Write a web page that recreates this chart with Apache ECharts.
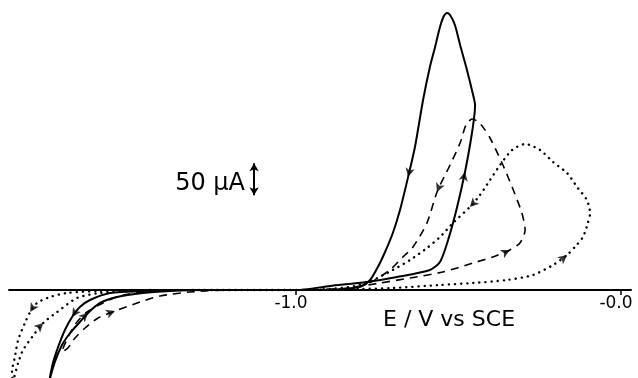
<!DOCTYPE html>
<html>
<head>
<meta charset="utf-8">
<script src="https://cdn.jsdelivr.net/npm/echarts@6/dist/echarts.min.js"></script>
<style>
  html, body { margin: 0; padding: 0; background: #fff; }
  #chart { width: 638px; height: 378px; }
</style>
</head>
<body>
<div id="chart"></div>
<script>
// E in V vs SCE, I in µA
const solidCurve = [
  [-1.326, 0], [-1.458, -1.6], [-1.572, -4.7], [-1.634, -15.6], [-1.665, -26.6],
  [-1.689, -42.2], [-1.711, -62.5], [-1.732, -89.1], [-1.748, -114.1], [-1.760, -143.8],
  [-1.742, -112.5], [-1.720, -85.9], [-1.695, -67.2], [-1.665, -50.0], [-1.640, -35.9],
  [-1.603, -20.3], [-1.551, -10.9], [-1.471, -4.7], [-1.388, -1.6], [-1.295, 0],
  [-1.000, 0], [-0.895, 6.3], [-0.782, 12.5], [-0.689, 20.3], [-0.588, 31.3],
  [-0.557, 43.8], [-0.532, 78.1], [-0.505, 128.1], [-0.480, 184.4], [-0.462, 234.4],
  [-0.452, 268.8], [-0.449, 289.1], [-0.455, 304.7], [-0.474, 343.8], [-0.495, 382.8],
  [-0.511, 414.1], [-0.526, 429.7], [-0.535, 432.8], [-0.545, 428.1], [-0.557, 410.9],
  [-0.572, 379.7], [-0.588, 348.4], [-0.609, 296.9], [-0.634, 223.4], [-0.655, 176.6],
  [-0.680, 125.0], [-0.702, 89.1], [-0.726, 59.4], [-0.748, 35.9], [-0.772, 15.6],
  [-0.797, 6.3], [-0.849, 1.6], [-0.926, 0]
];

const dashedCurve = [
  [-1.295, 0], [-1.449, -1.6], [-1.542, -9.4], [-1.594, -20.3], [-1.643, -34.4],
  [-1.674, -50.0], [-1.695, -67.2], [-1.714, -87.5], [-1.720, -96.9], [-1.702, -90.6],
  [-1.680, -75.0], [-1.649, -59.4], [-1.609, -43.8], [-1.557, -32.8], [-1.480, -18.8],
  [-1.418, -9.4], [-1.326, -3.1], [-1.203, 0], [-1.000, 0], [-0.865, 1.6],
  [-0.812, 4.7], [-0.742, 10.9], [-0.649, 18.8], [-0.548, 28.1], [-0.455, 42.2],
  [-0.394, 51.6], [-0.342, 62.5], [-0.311, 73.4], [-0.295, 93.8], [-0.305, 120.3],
  [-0.335, 160.9], [-0.366, 198.4], [-0.403, 237.5], [-0.425, 254.7], [-0.443, 264.1],
  [-0.458, 267.2], [-0.477, 257.8], [-0.495, 229.7], [-0.526, 195.3], [-0.566, 153.1],
  [-0.597, 104.7], [-0.640, 67.2], [-0.671, 51.6], [-0.711, 31.3], [-0.763, 14.1],
  [-0.803, 6.3], [-0.865, 1.6], [-0.957, 0]
];

const dottedCurve = [
  [-1.449, 0], [-1.603, -1.6], [-1.705, -4.7], [-1.757, -10.9], [-1.797, -20.3],
  [-1.818, -34.4], [-1.834, -51.6], [-1.855, -78.1], [-1.865, -104.7], [-1.874, -128.1],
  [-1.871, -140.0], [-1.855, -114.1], [-1.840, -93.8], [-1.812, -73.4], [-1.778, -51.6],
  [-1.735, -34.4], [-1.674, -12.5], [-1.603, -4.7], [-1.480, -1.6], [-1.295, 0],
  [-1.000, 0], [-0.803, 1.6], [-0.702, 3.1], [-0.557, 7.8], [-0.455, 10.9],
  [-0.351, 15.6], [-0.271, 23.4], [-0.209, 39.1], [-0.166, 54.7], [-0.142, 67.2],
  [-0.117, 82.8], [-0.102, 104.7], [-0.095, 120.3], [-0.105, 140.6], [-0.135, 160.9],
  [-0.166, 182.8], [-0.209, 200.0], [-0.249, 218.8], [-0.295, 228.1], [-0.335, 218.8],
  [-0.372, 195.3], [-0.403, 171.9], [-0.434, 148.4], [-0.465, 129.7], [-0.517, 104.7],
  [-0.557, 82.8], [-0.597, 65.6], [-0.649, 46.9], [-0.702, 31.3], [-0.763, 15.6],
  [-0.818, 6.3], [-0.895, 1.6], [-0.988, 0]
];

const tickValues = [-1.0, 0.0];
const tickLabels = ['-1.0', '-0.0'];

// 50 µA scale bar: E position, I from, I to
const scaleBar = [-1.129, 148, 198];

// direction arrows: curve name, point index
const arrowMarks = [
  ['solid', 5], ['solid', 14], ['solid', 28], ['solid', 44],
  ['dashed', 13], ['dashed', 26], ['dashed', 39],
  ['dotted', 5], ['dotted', 14], ['dotted', 28], ['dotted', 43]
];

const curves = { solid: solidCurve, dashed: dashedCurve, dotted: dottedCurve };
const font = 'DejaVu Sans';

const chart = echarts.init(document.getElementById('chart'), null, { renderer: 'canvas' });

// the x axis sits on the grid's bottom edge (I = 0); cathodic tails hang below it unclipped
const option = {
  animation: false,
  backgroundColor: '#fff',
  grid: { left: 9, right: 7, top: 0, bottom: 88, containLabel: false, outerBoundsMode: 'none' },
  xAxis: {
    type: 'value',
    min: -1.8831,
    max: 0.0308,
    splitLine: { show: false },
    axisLine: { show: true, onZero: false, lineStyle: { color: '#000', width: 2 } },
    axisTick: { show: true, customValues: tickValues, length: 5, lineStyle: { color: '#000', width: 1.5 } },
    axisLabel: {
      show: true,
      customValues: tickValues,
      margin: 5,
      padding: [0, 10, 0, 0],
      color: '#000',
      fontFamily: font,
      fontSize: 17,
      formatter: (v) => tickLabels[tickValues.indexOf(v)] ?? ''
    }
  },
  yAxis: {
    type: 'value',
    min: 0,
    max: 453.125,
    show: false,
    splitLine: { show: false }
  },
  graphic: [
    {
      type: 'text',
      x: 245, y: 184,
      style: { text: '50 µA', fill: '#000', font: '24px "DejaVu Sans"', textAlign: 'right', textVerticalAlign: 'middle' }
    },
    {
      type: 'text',
      x: 383, y: 320,
      style: { text: 'E / V vs SCE', fill: '#000', font: '22px "DejaVu Sans"', textAlign: 'left', textVerticalAlign: 'middle' }
    }
  ],
  series: [
    {
      name: 'solid',
      type: 'line',
      data: solidCurve,
      showSymbol: false,
      clip: false,
      smooth: 0.25,
      lineStyle: { color: '#000', width: 2 },
      markLine: {
        silent: true,
        symbol: ['arrow', 'arrow'],
        symbolSize: [7, 8],
        label: { show: false },
        lineStyle: { color: '#000', width: 2, type: 'solid' },
        data: [[{ coord: [scaleBar[0], scaleBar[1]] }, { coord: [scaleBar[0], scaleBar[2]] }]]
      }
    },
    {
      name: 'dashed',
      type: 'line',
      data: dashedCurve,
      showSymbol: false,
      clip: false,
      smooth: 0.25,
      lineStyle: { color: '#000', width: 1.6, type: [8, 6] }
    },
    {
      name: 'dotted',
      type: 'line',
      data: dottedCurve,
      showSymbol: false,
      clip: false,
      smooth: 0.25,
      lineStyle: { color: '#000', width: 2.4, type: [0.1, 6], cap: 'round' }
    },
    {
      id: 'arrows',
      type: 'scatter',
      symbol: 'arrow',
      symbolSize: [7, 9],
      clip: false,
      itemStyle: { color: '#000' },
      data: []
    }
  ]
};

chart.setOption(option);

// orient each arrow along its curve
const arrowData = arrowMarks.map(([name, i]) => {
  const pts = curves[name];
  const a = chart.convertToPixel({ gridIndex: 0 }, pts[i - 1]);
  const b = chart.convertToPixel({ gridIndex: 0 }, pts[i + 1]);
  const angle = Math.atan2(-(b[1] - a[1]), b[0] - a[0]) * 180 / Math.PI - 90;
  return { value: pts[i], symbolRotate: angle };
});

chart.setOption({ series: [{ id: 'arrows', data: arrowData }] });
</script>
</body>
</html>
